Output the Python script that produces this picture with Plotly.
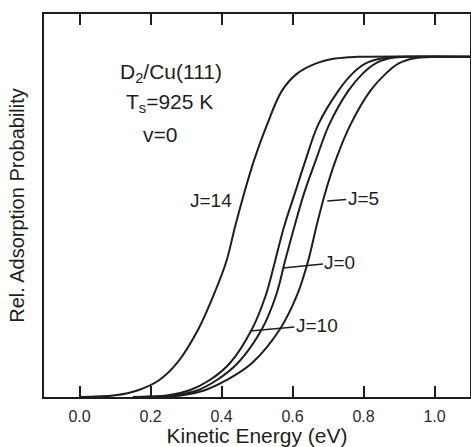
import plotly.graph_objects as go

p_levels = [0.0, 0.005, 0.02, 0.05, 0.1, 0.2, 0.3, 0.4, 0.5, 0.6, 0.7, 0.8, 0.9, 0.95, 0.98, 0.995, 1.0, 1.0]

# Kinetic energy (eV) of each curve at those levels
e_j14 = [0.00, 0.10, 0.165, 0.225, 0.275, 0.335, 0.378, 0.414, 0.438, 0.464, 0.493, 0.528, 0.570, 0.612, 0.665, 0.72, 0.78, 1.10]
e_j10 = [0.15, 0.25, 0.31, 0.367, 0.424, 0.486, 0.525, 0.551, 0.576, 0.607, 0.638, 0.672, 0.729, 0.768, 0.805, 0.85, 0.90, 1.10]
e_j0 = [0.17, 0.27, 0.333, 0.387, 0.446, 0.514, 0.554, 0.579, 0.605, 0.633, 0.667, 0.703, 0.757, 0.797, 0.833, 0.87, 0.92, 1.10]
e_j5 = [0.18, 0.29, 0.353, 0.415, 0.486, 0.565, 0.613, 0.644, 0.667, 0.692, 0.723, 0.763, 0.819, 0.862, 0.898, 0.94, 1.00, 1.10]

x_ticks = [0.0, 0.2, 0.4, 0.6, 0.8, 1.0]
x_tick_labels = ["0.0", "0.2", "0.4", "0.6", "0.8", "1.0"]

line_col = "#1e1e1e"
font_fam = "Liberation Sans, Arial, sans-serif"

fig = go.Figure()
for name, es in [("J=14", e_j14), ("J=10", e_j10), ("J=0", e_j0), ("J=5", e_j5)]:
    fig.add_trace(go.Scatter(
        x=es, y=p_levels, mode="lines", name=name,
        line=dict(color=line_col, width=2, shape="spline", smoothing=1.0),
        showlegend=False, hoverinfo="skip", cliponaxis=True,
    ))

txt = dict(family=font_fam, size=21, color="#1e1e1e")
lab = dict(family=font_fam, size=19, color="#1e1e1e")

annotations = [
    dict(x=0.257, y=0.953, text="D<sub>2</sub>/Cu(111)", showarrow=False, font=txt),
    dict(x=0.254, y=0.865, text="T<sub>s</sub>=925 K", showarrow=False, font=txt),
    dict(x=0.226, y=0.771, text="v=0", showarrow=False, font=txt),
    dict(x=0.370, y=0.579, text="J=14", showarrow=False, font=lab),
    dict(x=0.480, y=0.194, text="J=10", showarrow=True, ax=67, ay=-6,
         arrowhead=0, arrowwidth=1.5, arrowcolor=line_col, standoff=0, font=lab),
    dict(x=0.573, y=0.379, text="J=0", showarrow=True, ax=57, ay=-6,
         arrowhead=0, arrowwidth=1.5, arrowcolor=line_col, standoff=0, font=lab),
    dict(x=0.698, y=0.576, text="J=5", showarrow=True, ax=36, ay=-3,
         arrowhead=0, arrowwidth=1.5, arrowcolor=line_col, standoff=0, font=lab),
]

fig.update_layout(
    width=471, height=447,
    margin=dict(l=44, r=1, t=14, b=50, autoexpand=False),
    paper_bgcolor="white", plot_bgcolor="white",
    font=dict(family=font_fam, color="#2a2a2a"),
    annotations=annotations,
    xaxis=dict(
        range=[-0.1, 1.1], tickvals=x_ticks, ticktext=x_tick_labels,
        ticks="inside", ticklen=11, tickwidth=1.5, tickcolor=line_col,
        showline=True, linecolor=line_col, linewidth=2, mirror="ticks",
        showgrid=False, zeroline=False, automargin=False,
        tickfont=dict(size=16, color="#2a2a2a"), ticklabelstandoff=4,
        title=dict(text="Kinetic Energy (eV)", font=dict(size=21, color="#1e1e1e"), standoff=0),
    ),
    yaxis=dict(
        range=[0, 1.126], showticklabels=False, ticks="",
        showline=True, linecolor=line_col, linewidth=2, mirror=True,
        showgrid=False, zeroline=False, automargin=False,
        title=dict(text="Rel. Adsorption Probability", font=dict(size=20, color="#1e1e1e"), standoff=12),
    ),
)

fig.write_html("out.html", config={"displayModeBar": False},
               post_script="document.body.style.margin='0';document.body.style.overflow='hidden';")
